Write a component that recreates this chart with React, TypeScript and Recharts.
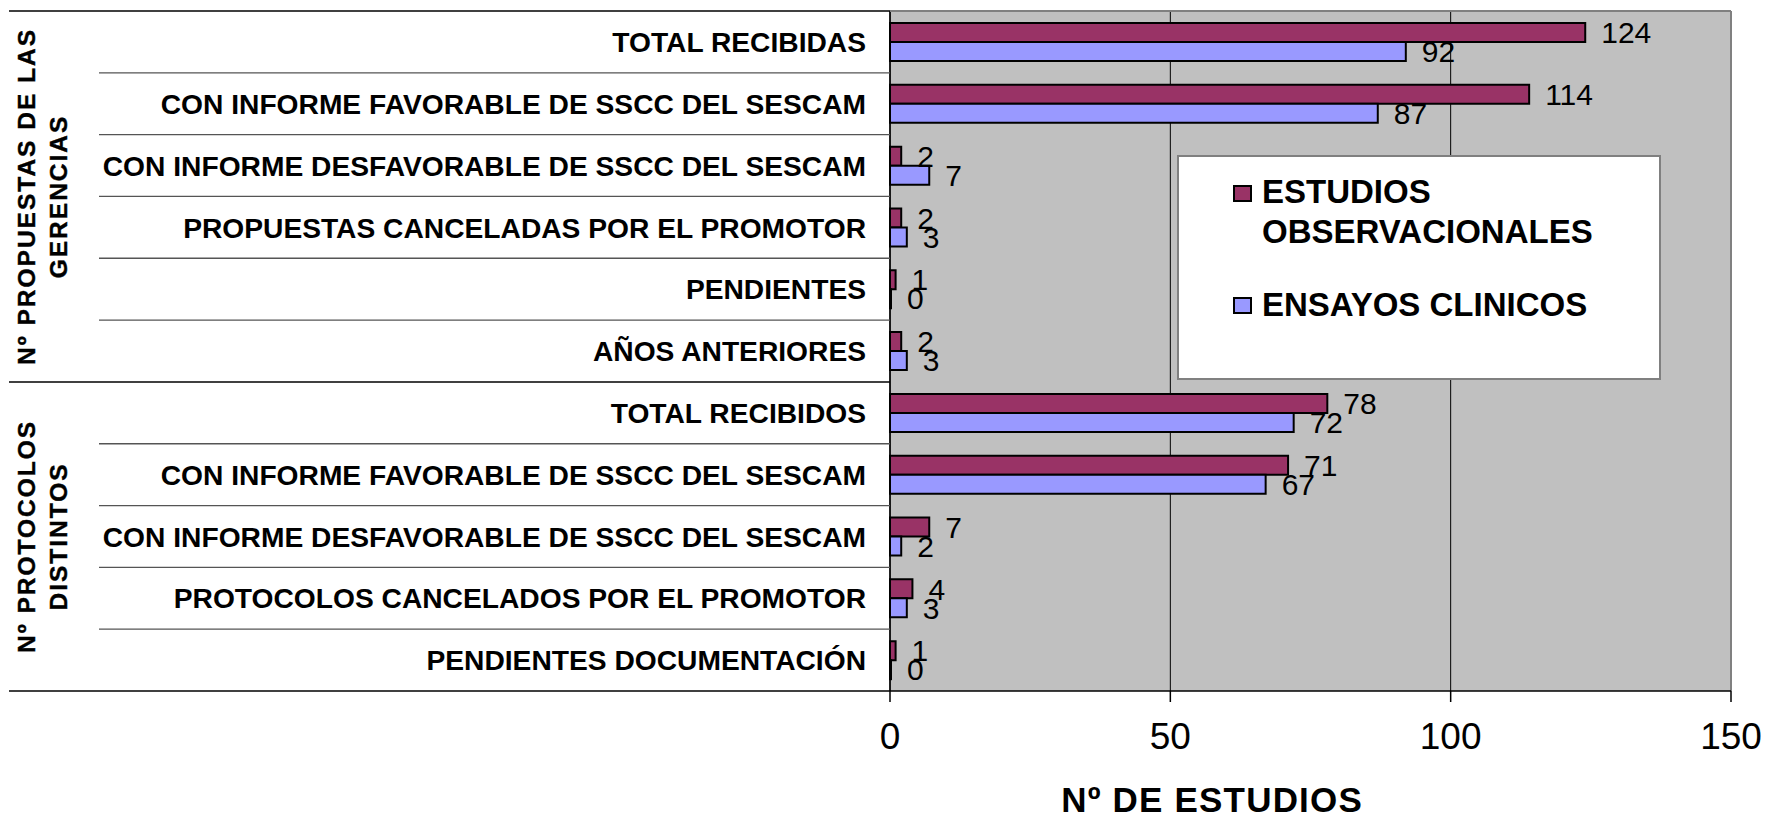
import React from 'react';
import {
  BarChart,
  Bar,
  XAxis,
  YAxis,
  CartesianGrid,
  LabelList,
  Legend,
  ReferenceLine,
  Label,
} from 'recharts';

if (typeof document !== 'undefined') {
  document.body.style.margin = '0';
}

const FONT = '"Liberation Sans", Arial, Helvetica, sans-serif';

// ---------- data ----------
const categories = [
  'TOTAL RECIBIDAS',
  'CON INFORME FAVORABLE DE SSCC DEL SESCAM',
  'CON INFORME DESFAVORABLE DE SSCC DEL SESCAM',
  'PROPUESTAS CANCELADAS POR EL PROMOTOR',
  'PENDIENTES',
  'AÑOS ANTERIORES',
  'TOTAL RECIBIDOS',
  'CON INFORME FAVORABLE DE SSCC DEL SESCAM',
  'CON INFORME DESFAVORABLE DE SSCC DEL SESCAM',
  'PROTOCOLOS CANCELADOS POR EL PROMOTOR',
  'PENDIENTES DOCUMENTACIÓN',
];
const observacionales = [124, 114, 2, 2, 1, 2, 78, 71, 7, 4, 1];
const ensayos = [92, 87, 7, 3, 0, 3, 72, 67, 2, 3, 0];
const seriesNames = ['ESTUDIOS OBSERVACIONALES', 'ENSAYOS CLINICOS'];
const seriesColors = ['#993366', '#9999FF'];
const groupLabels = [
  ['Nº PROPUESTAS DE LAS', 'GERENCIAS'],
  ['Nº PROTOCOLOS', 'DISTINTOS'],
];
const groupSizes = [6, 5];
const xTicks = [0, 50, 100, 150];
const axisTitle = 'Nº DE ESTUDIOS';

const data = categories.map((c, i) => ({
  id: i,
  obs: observacionales[i],
  ens: ensayos[i],
}));

// ---------- layout ----------
const W = 1767;
const H = 819;
const MARGIN = { top: 11, right: 36, bottom: 0, left: 0 };
const Y_AXIS_W = 890;
const X_AXIS_H = 128;
const PLOT_H = H - MARGIN.top - MARGIN.bottom - X_AXIS_H;
const BAND = PLOT_H / categories.length;
const PLOT_LEFT = MARGIN.left + Y_AXIS_W;
const PLOT_RIGHT = W - MARGIN.right;
const groupStarts = groupSizes.map((_, g) =>
  groupSizes.slice(0, g).reduce((a, b) => a + b, 0)
);

function CategoryTick(props: any) {
  const { x, y, payload } = props;
  const i = Number(payload.value);
  const top = y - BAND / 2;
  const bottom = y + BAND / 2;
  const g = groupStarts.indexOf(i);
  const els: any[] = [];
  els.push(
    <line
      key="sep"
      x1={g >= 0 ? 9 : 99}
      x2={PLOT_LEFT}
      y1={top}
      y2={top}
      stroke={g >= 0 ? '#000' : '#555'}
      strokeWidth={g >= 0 ? 1.5 : 1.3}
    />
  );
  if (i === 0) {
    els.push(
      <line key="top" x1={PLOT_LEFT} x2={PLOT_RIGHT} y1={top} y2={top} stroke="#808080" strokeWidth={2} />
    );
  }
  if (i === categories.length - 1) {
    els.push(
      <line key="bot" x1={9} x2={PLOT_LEFT} y1={bottom} y2={bottom} stroke="#000" strokeWidth={1.5} />
    );
  }
  if (g >= 0) {
    const cy = top + (groupSizes[g] * BAND) / 2;
    groupLabels[g].forEach((line, k) => {
      const bx = 35 + k * 32;
      els.push(
        <text
          key={'g' + k}
          x={bx}
          y={cy}
          transform={`rotate(-90, ${bx}, ${cy})`}
          textAnchor="middle"
          fontFamily={FONT}
          fontWeight="bold"
          fontSize={24.5}
          letterSpacing={2}
          fill="#000"
          stroke="#000"
          strokeWidth={0.4}
        >
          {line}
        </text>
      );
    });
  }
  els.push(
    <text
      key="lbl"
      x={x}
      y={y}
      dy="0.36em"
      textAnchor="end"
      fontFamily={FONT}
      fontWeight="bold"
      fontSize={28.2}
      fill="#000"
    >
      {categories[i]}
    </text>
  );
  return <g>{els}</g>;
}

function XTitle(props: any) {
  const vb = props.viewBox || { x: PLOT_LEFT, y: H - X_AXIS_H, width: PLOT_RIGHT - PLOT_LEFT, height: X_AXIS_H };
  return (
    <text
      x={vb.x + vb.width * 0.383}
      y={vb.y + vb.height - 7}
      textAnchor="middle"
      fontFamily={FONT}
      fontWeight="bold"
      fontSize={35}
      letterSpacing={1.2}
      fill="#000"
    >
      {axisTitle}
    </text>
  );
}

function LegendBox() {
  return (
    <div
      style={{
        width: 484,
        height: 225,
        boxSizing: 'border-box',
        border: '2px solid #808080',
        background: '#fff',
        position: 'relative',
        fontFamily: FONT,
        fontWeight: 'bold',
        fontSize: 33,
        lineHeight: '39.5px',
        color: '#000',
      }}
    >
      {seriesNames.map((name, k) => (
        <div
          key={k}
          style={{ position: 'absolute', left: 54, top: k === 0 ? 15 : 127.5, display: 'flex', alignItems: 'flex-start' }}
        >
          <div
            style={{
              width: 15,
              height: 13,
              background: seriesColors[k],
              border: '2px solid #000',
              marginTop: 12.5,
              marginRight: 10,
              flex: 'none',
            }}
          />
          <div style={{ width: 380, textAlign: 'left' }}>{name}</div>
        </div>
      ))}
    </div>
  );
}

export default function App() {
  return (
    <div style={{ width: W, height: H, background: '#fff' }}>
      <BarChart
        width={W}
        height={H}
        data={data}
        layout="vertical"
        margin={MARGIN}
        barGap={0}
      >
        <CartesianGrid horizontal={false} stroke="#000" strokeWidth={1} fill="#C0C0C0" fillOpacity={1} />
        <XAxis
          type="number"
          domain={[0, 150]}
          ticks={xTicks}
          interval={0}
          height={X_AXIS_H}
          tickSize={11}
          tickMargin={21}
          axisLine={{ stroke: '#000', strokeWidth: 1.5 }}
          tickLine={{ stroke: '#000', strokeWidth: 1.5 }}
          tick={{ fontSize: 37, fill: '#000', fontFamily: FONT }}
        >
          <Label content={(p: any) => <XTitle {...p} />} />
        </XAxis>
        <YAxis
          type="category"
          dataKey="id"
          width={Y_AXIS_W}
          interval={0}
          tickSize={0}
          tickMargin={24}
          tickLine={false}
          axisLine={{ stroke: '#000', strokeWidth: 1.5 }}
          tick={(p: any) => <CategoryTick {...p} />}
        />
        <ReferenceLine x={150} stroke="#808080" strokeWidth={2} />
        <Legend
          layout="horizontal"
          verticalAlign="middle"
          align="center"
          wrapperStyle={{ left: 1177, top: 155, width: 484, height: 225 }}
          content={() => <LegendBox />}
        />
        <Bar
          dataKey="obs"
          name={seriesNames[0]}
          fill={seriesColors[0]}
          stroke="#000"
          strokeWidth={2}
          barSize={19}
          minPointSize={1}
          isAnimationActive={false}
        >
          <LabelList dataKey="obs" position="right" offset={16} fill="#000" fontSize={30} fontFamily={FONT} />
        </Bar>
        <Bar
          dataKey="ens"
          name={seriesNames[1]}
          fill={seriesColors[1]}
          stroke="#000"
          strokeWidth={2}
          barSize={19}
          minPointSize={1}
          isAnimationActive={false}
        >
          <LabelList dataKey="ens" position="right" offset={16} fill="#000" fontSize={30} fontFamily={FONT} />
        </Bar>
      </BarChart>
    </div>
  );
}
